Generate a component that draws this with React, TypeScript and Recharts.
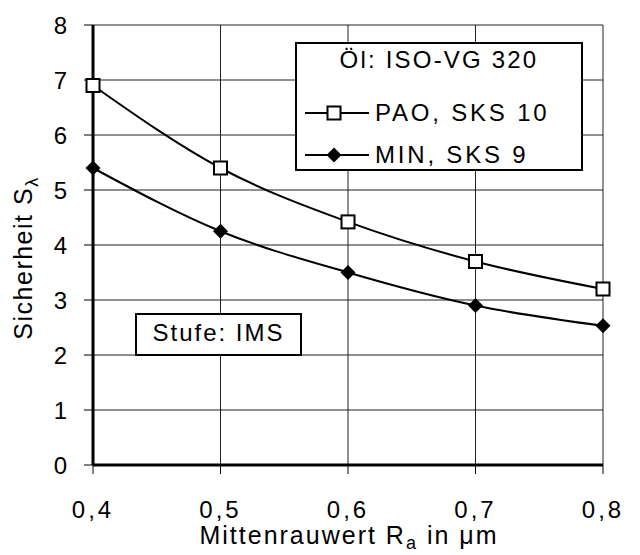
import React from 'react';
import { LineChart, Line, XAxis, YAxis, CartesianGrid, Label } from 'recharts';

const raValues = [0.4, 0.5, 0.6, 0.7, 0.8];
const paoValues = [6.9, 5.4, 4.42, 3.7, 3.2];
const minValues = [5.4, 4.25, 3.5, 2.9, 2.53];
const xTicks = [0.4, 0.5, 0.6, 0.7, 0.8];
const yTicks = [0, 1, 2, 3, 4, 5, 6, 7, 8];

const legendTitle = 'Öl: ISO-VG 320';
const stageText = 'Stufe: IMS';

const FONT = '"Liberation Sans", Arial, sans-serif';

const data = raValues.map((ra, i) => ({ ra, pao: paoValues[i], min: minValues[i] }));

const SquareDot = (props: any) => {
  const { cx, cy } = props;
  if (cx == null || cy == null) return null;
  return <rect x={cx - 6.5} y={cy - 6.5} width={13} height={13} fill="#fff" stroke="#000" strokeWidth={2} />;
};

const DiamondDot = (props: any) => {
  const { cx, cy } = props;
  if (cx == null || cy == null) return null;
  return <polygon points={`${cx},${cy - 7.5} ${cx + 7.5},${cy} ${cx},${cy + 7.5} ${cx - 7.5},${cy}`} fill="#000" />;
};

const series = [
  { key: 'pao', name: 'PAO, SKS 10', dot: SquareDot },
  { key: 'min', name: 'MIN, SKS 9', dot: DiamondDot },
];

const fmt = (v: number) => v.toFixed(1).replace('.', ',');

const XTick = (props: any) => {
  const { x, y, payload } = props;
  return (
    <text x={x} y={y} dy={18} textAnchor="middle" fontSize={24} fontFamily={FONT} letterSpacing={3} fill="#000">
      {fmt(payload.value)}
    </text>
  );
};

const YTick = (props: any) => {
  const { x, y, payload } = props;
  return (
    <text x={x} y={y} dy={8.5} textAnchor="end" fontSize={24} fontFamily={FONT} fill="#000">
      {payload.value}
    </text>
  );
};

export default function App() {
  return (
    <div style={{ position: 'absolute', left: 0, top: 0, width: 640, height: 555, background: '#fff' }}>
      <LineChart width={640} height={555} data={data} margin={{ top: 25, right: 37, left: 0, bottom: 0 }}>
        <CartesianGrid stroke="#222" strokeWidth={1} />
        <XAxis
          dataKey="ra"
          type="number"
          domain={[0.4, 0.8]}
          ticks={xTicks}
          height={90}
          tickSize={9}
          tickMargin={26}
          stroke="#000"
          axisLine={{ stroke: '#000', strokeWidth: 3 }}
          tickLine={{ stroke: '#000', strokeWidth: 1 }}
          tick={<XTick />}
        >
          <Label
            content={() => (
              <text x={349} y={544} textAnchor="middle" fontSize={25} fontFamily={FONT} letterSpacing={2} fill="#000">
                Mittenrauwert R<tspan fontSize={18} dy={5}>a</tspan>
                <tspan dy={-5}> in μm</tspan>
              </text>
            )}
          />
        </XAxis>
        <XAxis xAxisId="top" orientation="top" type="number" domain={[0.4, 0.8]} height={0} tick={false} tickLine={false} axisLine={{ stroke: '#000', strokeWidth: 2 }} />
        <YAxis
          domain={[0, 8]}
          ticks={yTicks}
          width={93}
          tickSize={9}
          tickMargin={17}
          stroke="#000"
          axisLine={{ stroke: '#000', strokeWidth: 3 }}
          tickLine={{ stroke: '#000', strokeWidth: 1 }}
          tick={<YTick />}
          interval={0}
        >
          <Label
            content={() => (
              <text transform="translate(32,258) rotate(-90)" textAnchor="middle" fontSize={25} fontFamily={FONT} letterSpacing={1.5} fill="#000">
                Sicherheit S<tspan fontSize={18} dy={6}>λ</tspan>
              </text>
            )}
          />
        </YAxis>
        <YAxis yAxisId="right" orientation="right" domain={[0, 8]} width={0} tick={false} tickLine={false} axisLine={{ stroke: '#000', strokeWidth: 3 }} />
        {series.map((s) => (
          <Line
            key={s.key}
            dataKey={s.key}
            name={s.name}
            type="monotone"
            stroke="#000"
            strokeWidth={2}
            dot={s.dot}
            activeDot={false}
            isAnimationActive={false}
          />
        ))}
      </LineChart>

      <div
        style={{
          position: 'absolute', left: 295, top: 42, width: 284, height: 125,
          border: '2px solid #000', background: '#fff', fontFamily: FONT, fontSize: 24, color: '#000',
        }}
      >
        <div style={{ position: 'absolute', left: 0, right: 0, top: 1, lineHeight: '30px', textAlign: 'center', letterSpacing: 2.2 }}>
          {legendTitle}
        </div>
        {series.map((s, i) => (
          <div key={s.key} style={{ position: 'absolute', left: 8, top: 54 + i * 42, height: 30, display: 'flex', alignItems: 'center' }}>
            <svg width={64} height={30} style={{ display: 'block' }}>
              <line x1={0} y1={15} x2={64} y2={15} stroke="#000" strokeWidth={2} />
              {React.createElement(s.dot, { cx: 29, cy: 15 })}
            </svg>
            <span style={{ marginLeft: 6, lineHeight: '30px', letterSpacing: 2.8 }}>{s.name}</span>
          </div>
        ))}
      </div>

      <div
        style={{
          position: 'absolute', left: 135, top: 313, width: 163, height: 39,
          border: '2px solid #000', background: '#fff', fontFamily: FONT, fontSize: 24, color: '#000',
          lineHeight: '35px', textAlign: 'center', letterSpacing: 2,
        }}
      >
        {stageText}
      </div>
    </div>
  );
}
